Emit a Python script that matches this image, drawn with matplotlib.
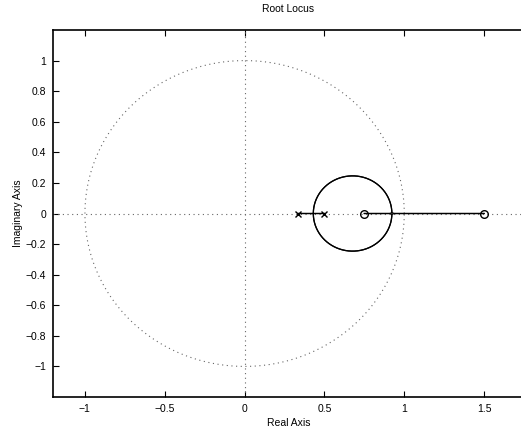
import numpy as np
import matplotlib
matplotlib.use("Agg")
import matplotlib.pyplot as plt

plt.rcParams['font.family'] = ['Liberation Sans', 'DejaVu Sans']

# System data
poles = [1/3, 0.5]
zeros = [0.75, 1.5]
x_ticks = [-1, -0.5, 0, 0.5, 1, 1.5]
y_ticks = [-1, -0.8, -0.6, -0.4, -0.2, 0, 0.2, 0.4, 0.6, 0.8, 1]

# Root locus: den(z) + K * num(z) = 0
den = np.poly(poles)
num = np.poly(zeros)
gains = np.concatenate([[0.0], np.logspace(-5, 5, 6000)])
branches = []
prev = np.sort(np.roots(den).astype(complex))
branches.append(prev.copy())
for k in gains[1:]:
    r = np.roots(den + k * num).astype(complex)
    if abs(r[0] - prev[0]) + abs(r[1] - prev[1]) > abs(r[1] - prev[0]) + abs(r[0] - prev[1]):
        r = r[::-1]
    branches.append(r)
    prev = r
branches = np.array(branches)

W, H = 521, 428
fig = plt.figure(figsize=(W / 100, H / 100), dpi=100)
ax = fig.add_axes([53 / W, (H - 397) / H, (524 - 53) / W, (397 - 30) / H])

dot = (0, (1, 3.2))
dcol = '#666666'
th = np.linspace(0, 2 * np.pi, 400)
ax.plot(np.cos(th), np.sin(th), ls=dot, color=dcol, lw=0.8)
ax.axhline(0, ls=dot, color=dcol, lw=0.8)
ax.axvline(0, ls=dot, color=dcol, lw=0.8)

for i in range(branches.shape[1]):
    b = branches[:, i]
    ax.plot(b.real, b.imag, '-', color='black', lw=0.9)
    ax.plot(b.real, -b.imag, '-', color='black', lw=0.9)

ax.plot(poles, [0] * len(poles), 'x', color='black', ms=4, mew=1.0)
ax.plot(zeros, [0] * len(zeros), 'o', color='black', mfc='none', ms=5.5, mew=1.0)

ax.set_xlim(-1.2, 1.75)
ax.set_ylim(-1.2, 1.2)
ax.set_xticks(x_ticks)
ax.set_xticklabels(['\u22121', '\u22120.5', '0', '0.5', '1', '1.5'])
ax.set_yticks(y_ticks)
ax.set_yticklabels(['\u22121', '\u22120.8', '\u22120.6', '\u22120.4', '\u22120.2', '0',
                    '0.2', '0.4', '0.6', '0.8', '1'])
ax.tick_params(direction='in', length=4, width=0.8, labelsize=7.5, top=True, right=False, pad=5)
for s in ax.spines.values():
    s.set_linewidth(1.2)
ax.set_xlabel('Real Axis', fontsize=7.5, labelpad=3)
ax.set_ylabel('Imaginary Axis', fontsize=7.5, labelpad=2)
ax.set_title('Root Locus', fontsize=7.5, pad=13)

fig.savefig('out.png', dpi=100)
